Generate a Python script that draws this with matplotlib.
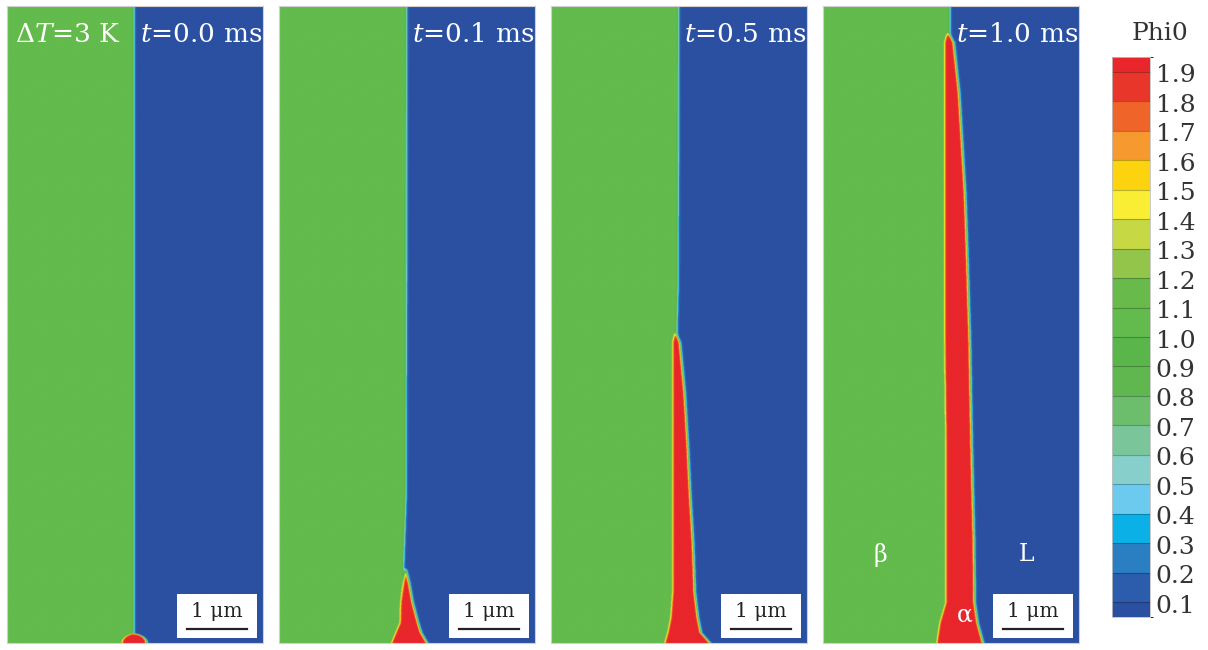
import numpy as np
import matplotlib.pyplot as plt
from matplotlib.colors import ListedColormap, BoundaryNorm
from matplotlib.patches import Rectangle
from matplotlib import transforms
import matplotlib as mpl

plt.rcParams['font.family'] = ['DejaVu Serif']
plt.rcParams['mathtext.fontset'] = 'dejavuserif'

# domain size in um
W = 4.27
H = 10.6

times = ["0.0", "0.1", "0.5", "1.0"]

# beta / liquid interface position (x, um) at given heights
iface_y = [[0, 10.6], [0, 1.3, 2.5, 10.6], [0, 5.2, 6.0, 10.6], [0, 10.6]]
iface_x = [[2.12, 2.12], [2.08, 2.08, 2.12, 2.13], [2.10, 2.10, 2.12, 2.13], [2.12, 2.12]]

# alpha needle: left / right edges at given heights, last entry is the tip
alpha_y = [
    [0, 0.04, 0.08, 0.11, 0.14, 0.16],
    [0, 0.17, 0.33, 0.67, 1.0, 1.25],
    [0, 0.17, 0.42, 0.83, 1.67, 2.5, 3.33, 4.17, 5.0, 5.18],
    [0, 0.33, 0.67, 1.67, 3.33, 5.0, 6.67, 7.5, 8.33, 9.17, 10.0, 10.17],
]
alpha_left = [
    [1.92, 1.93, 1.96, 2.00, 2.06, 2.12],
    [1.88, 1.95, 2.02, 2.03, 2.07, 2.11],
    [1.90, 1.95, 2.00, 2.03, 2.03, 2.03, 2.03, 2.03, 2.03, 2.07],
    [1.90, 1.95, 2.05, 2.05, 2.05, 2.03, 2.03, 2.03, 2.03, 2.03, 2.03, 2.08],
]
alpha_right = [
    [2.33, 2.32, 2.29, 2.25, 2.19, 2.12],
    [2.47, 2.37, 2.32, 2.23, 2.17, 2.11],
    [2.65, 2.50, 2.45, 2.40, 2.37, 2.32, 2.28, 2.23, 2.15, 2.07],
    [2.67, 2.58, 2.53, 2.52, 2.48, 2.45, 2.40, 2.37, 2.32, 2.27, 2.18, 2.08],
]

phi_beta, phi_liq, phi_alpha = 1.05, 0.07, 1.97

# legend
bounds = [0.05] + [round(0.1 * i, 1) for i in range(1, 20)] + [1.95]
ticks = [round(0.1 * i, 1) for i in range(1, 20)]
colors = ["#2B50A1", "#2C5DAC", "#2A7EC2", "#0BB1E6", "#6BCAEE", "#86CFCB",
          "#7BC59B", "#6CBD6C", "#60B750", "#5AB64B", "#62BB4C", "#68BA4A",
          "#92C54A", "#C7D845", "#F9EE34", "#FDD20E", "#F69A30", "#EE6429",
          "#E8372A", "#E8262B"]

cmap = ListedColormap(colors)
norm = BoundaryNorm(bounds, cmap.N)

fig = plt.figure(figsize=(12.08, 6.5), dpi=100)

x = np.linspace(0, W, 520)
y = np.linspace(0, H, 1300)
X, Y = np.meshgrid(x, y)
w = 0.025

lefts = [7, 279, 551, 823]
for k in range(4):
    ax = fig.add_axes([lefts[k] / 1208, 7 / 650, 256 / 1208, 637 / 650])
    xi = np.interp(Y, iface_y[k], iface_x[k])
    beta = 0.5 * (1 - np.tanh((X - xi) / w))
    xl = np.interp(Y, alpha_y[k], alpha_left[k])
    xr = np.interp(Y, alpha_y[k], alpha_right[k])
    a = 0.5 * (np.tanh((X - xl) / w) - np.tanh((X - xr) / w))
    a = np.clip(a, 0, 1) * 0.5 * (1 - np.tanh((Y - alpha_y[k][-1]) / w))
    phi = phi_liq + (phi_beta - phi_liq) * beta
    phi = phi * (1 - a) + phi_alpha * a
    ax.imshow(phi, origin='lower', extent=[0, W, 0, H], cmap=cmap, norm=norm,
              aspect='auto', interpolation='bilinear')
    ax.set_xlim(0, W)
    ax.set_ylim(0, H)
    ax.set_xticks([])
    ax.set_yticks([])
    for s in ax.spines.values():
        s.set_color("#d0d0d0")
        s.set_linewidth(0.8)

    ax.text(W - 0.02, H - 0.47, r"$t$=" + times[k] + " ms", color="white",
            fontsize=19, ha='right', va='center')
    if k == 0:
        ax.text(0.13, H - 0.47, r"$\Delta T$=3 K", color="white",
                fontsize=19, ha='left', va='center')

    # scale bar
    ax.add_patch(Rectangle((2.83, 0.08), 1.34, 0.74, facecolor="white",
                           edgecolor="none"))
    ax.plot([3.0, 4.0], [0.23, 0.23], color="#222222", lw=1.6)
    ax.text(3.5, 0.52, "1 \u03bcm", color="#222222", fontsize=14.5,
            ha='center', va='center')

    if k == 3:
        ax.text(0.95, 1.47, "\u03b2", color="white", fontsize=17,
                ha='center', va='center')
        ax.text(3.4, 1.47, "L", color="white", fontsize=17,
                ha='center', va='center')
        ax.text(2.37, 0.47, "\u03b1", color="white", fontsize=17,
                ha='center', va='center')

cax = fig.add_axes([1112 / 1208, 33 / 650, 38 / 1208, 560 / 650])
sm = mpl.cm.ScalarMappable(cmap=cmap, norm=norm)
cb = fig.colorbar(sm, cax=cax, boundaries=bounds, ticks=ticks,
                  spacing='proportional', drawedges=True)
cb.dividers.set_color((0, 0, 0, 0.25))
cb.dividers.set_linewidth(0.8)
cb.outline.set_edgecolor("#c0c0c0")
cb.outline.set_linewidth(0.6)
cax.tick_params(length=0, labelright=False)
offs = transforms.blended_transform_factory(cax.transAxes, cax.transData) + \
    transforms.ScaledTranslation(0, -4 / 100, fig.dpi_scale_trans)
for t in ticks:
    cax.text(1.15, t, "%.1f" % t, transform=offs, fontsize=18,
             color="#333333", ha='left', va='center')
fig.text(1160 / 1208, 1 - 33 / 650, "Phi0", fontsize=18, color="#333333",
         ha='center', va='center')

fig.savefig("out.png", dpi=100)
